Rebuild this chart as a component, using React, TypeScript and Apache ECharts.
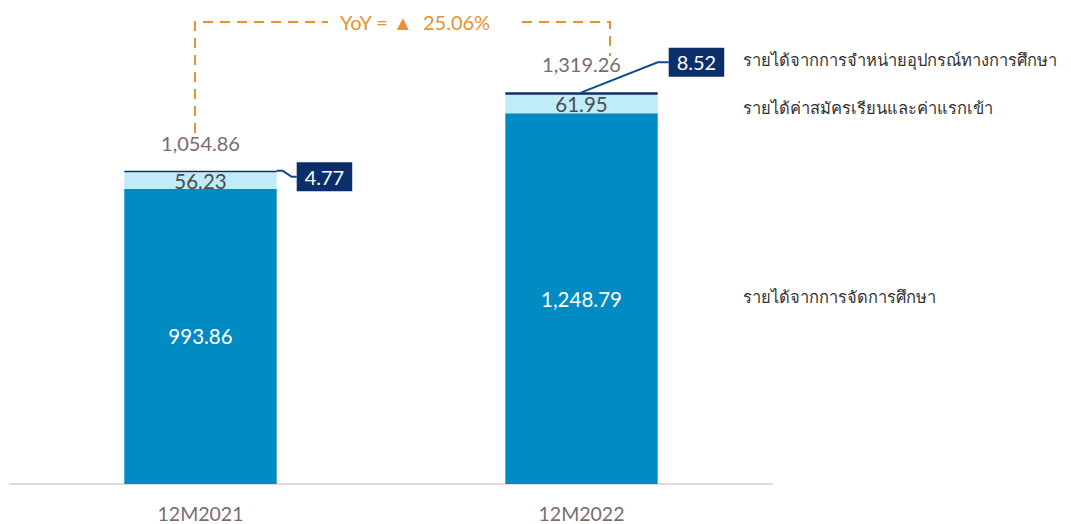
import React, { useEffect, useRef } from "react";
import * as echarts from "echarts";

const categories = ["12M2021", "12M2022"];
const seriesNames = [
  "รายได้จากการจัดการศึกษา",
  "รายได้ค่าสมัครเรียนและค่าแรกเข้า",
  "รายได้จากการจำหน่ายอุปกรณ์ทางการศึกษา",
];
const educationRevenue = [993.86, 1248.79];
const applicationFees = [56.23, 61.95];
const equipmentSales = [4.77, 8.52];
const totals = [1054.86, 1319.26];
const yoyText = "YoY = ▲  25.06%";

const fmt = (v: number) =>
  v.toLocaleString("en-US", { minimumFractionDigits: 2, maximumFractionDigits: 2 });

export default function App() {
  const ref = useRef<HTMLDivElement>(null);
  useEffect(() => {
    if (!ref.current) return;
    const chart = echarts.init(ref.current, null, { renderer: "svg" });
    const font = "Lato, 'Noto Sans', sans-serif";
    const orange = "#E8922E";
    const navy = "#0B2F6A";
    const thai = "'Noto Sans', sans-serif";
    const baseGraphic: any[] = [
      {
        type: "text",
        left: 743,
        top: 51,
        style: { text: seriesNames[2], fill: "#333", fontSize: 16.5, fontFamily: thai },
      },
      {
        type: "text",
        left: 743,
        top: 99,
        style: { text: seriesNames[1], fill: "#333", fontSize: 16.5, fontFamily: thai },
      },
      {
        type: "text",
        left: 743,
        top: 288,
        style: { text: seriesNames[0], fill: "#333", fontSize: 16.5, fontFamily: thai },
      },
      {
        type: "polyline",
        shape: { points: [[195, 133], [195, 22], [328, 22]] },
        style: { stroke: orange, lineWidth: 2, lineDash: [10, 7], fill: null },
      },
      {
        type: "polyline",
        shape: { points: [[522, 22], [610, 22], [610, 56]] },
        style: { stroke: orange, lineWidth: 2, lineDash: [10, 7], fill: null },
      },
      {
        type: "text",
        x: 340,
        y: 22,
        style: { text: yoyText, fill: orange, fontSize: 20, fontFamily: font, verticalAlign: "middle" },
      },
    ];
    chart.setOption({
      animation: false,
      textStyle: { fontFamily: font },
      grid: { left: 10, right: 299, top: 9, bottom: 40 },
      xAxis: {
        type: "category",
        data: categories,
        axisLine: { lineStyle: { color: "#dcdcdc", width: 2 } },
        axisTick: { show: false },
        axisLabel: { color: "#7a6c6c", fontSize: 19.5, margin: 19, fontFamily: font },
      },
      yAxis: { type: "value", min: 0, max: 1600, show: false, splitLine: { show: false } },
      series: [
        {
          name: seriesNames[0],
          type: "bar",
          stack: "a",
          barWidth: "40%",
          data: educationRevenue,
          itemStyle: { color: "#008BC2" },
          label: { show: true, position: "inside", color: "#fff", fontSize: 20.5, formatter: (p: any) => fmt(p.value) },
        },
        {
          name: seriesNames[1],
          type: "bar",
          stack: "a",
          data: applicationFees,
          itemStyle: { color: "#BFEBFB" },
          label: { show: true, position: "inside", color: "#4d4d4d", fontSize: 20.5, formatter: (p: any) => fmt(p.value) },
        },
        {
          name: seriesNames[2],
          type: "bar",
          stack: "a",
          data: equipmentSales,
          itemStyle: { color: navy },
          label: {
            show: true,
            position: "inside",
            color: "#fff",
            fontSize: 20,
            backgroundColor: navy,
            padding: [5, 8, 4, 8],
            formatter: (p: any) => fmt(p.value),
          },
          labelLayout: (p: any) => {
            const r = p.rect;
            const right = r.x + r.width;
            if (p.dataIndex === 0) {
              return { x: right + 20, y: r.y + 6, align: "left", verticalAlign: "middle" };
            }
            return { x: right + 11, y: r.y - 30, align: "left", verticalAlign: "middle" };
          },
        },
        {
          name: "total",
          type: "bar",
          stack: "a",
          data: totals.map(() => 0),
          itemStyle: { color: "transparent" },
          label: {
            show: true,
            position: "top",
            distance: 18,
            color: "#7a6c6c",
            fontSize: 20,
            formatter: (p: any) => fmt(totals[p.dataIndex]),
          },
        },
      ],
      graphic: baseGraphic,
    });

    // connector lines from the thin navy segment to its boxed label
    const band = (1071 - 10 - 299) / categories.length;
    const half = (band * 0.4) / 2;
    const lines = categories.map((_, i) => {
      const top = educationRevenue[i] + applicationFees[i] + equipmentSales[i];
      const [cx, cy] = chart.convertToPixel({ seriesIndex: 0 }, [i, top]) as number[];
      const right = cx + half;
      const pts =
        i === 0
          ? [[right, cy], [right + 6, cy], [right + 15, cy + 6], [right + 20, cy + 6]]
          : [[cx, cy], [right, cy - 30], [right + 11, cy - 30]];
      return {
        type: "polyline",
        z: 1,
        shape: { points: pts },
        style: { stroke: "#0B4C8C", lineWidth: 2, fill: null },
      };
    });
    chart.setOption({ graphic: [...baseGraphic, ...lines] });
    return () => chart.dispose();
  }, []);
  return (
    <div
      ref={ref}
      style={{ position: "absolute", left: 0, top: 0, width: 1071, height: 524 }}
    />
  );
}
